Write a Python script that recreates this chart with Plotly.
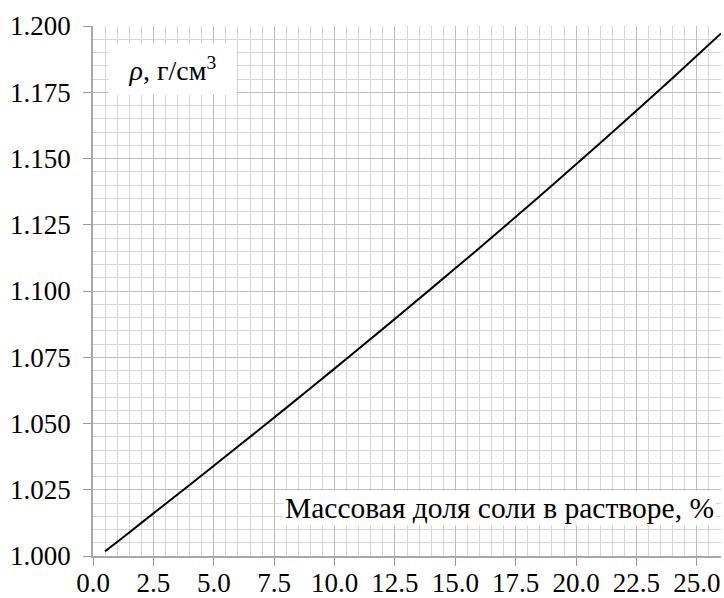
import plotly.graph_objects as go

# Data: mass fraction of salt (%) vs density (g/cm3)
mass_fraction = [0.5, 1, 2, 4, 6, 8, 10, 12, 14, 16, 18, 20, 22, 24, 26]
density = [1.0018, 1.0053, 1.0125, 1.0268, 1.0413, 1.0559, 1.0707, 1.0857,
           1.1009, 1.1162, 1.1319, 1.1478, 1.1640, 1.1804, 1.1972]

x_ticks = [0.0, 2.5, 5.0, 7.5, 10.0, 12.5, 15.0, 17.5, 20.0, 22.5, 25.0]
y_ticks = [1.000, 1.025, 1.050, 1.075, 1.100, 1.125, 1.150, 1.175, 1.200]

FONT = "'Liberation Serif', 'Times New Roman', serif"
FS = 27

fig = go.Figure()
fig.add_trace(go.Scatter(
    x=mass_fraction, y=density, mode="lines",
    line=dict(color="black", width=2, shape="spline", smoothing=0.6),
    hoverinfo="skip", showlegend=False,
))

fig.update_layout(
    width=724, height=598,
    margin=dict(l=93, r=3, t=26, b=42),
    paper_bgcolor="white", plot_bgcolor="white",
    font=dict(family=FONT, size=FS, color="black"),
    xaxis=dict(
        range=[0, 26], tickvals=x_ticks, ticktext=[f"{v:.1f}" for v in x_ticks],
        showgrid=True, gridcolor="#bdbdbd", gridwidth=1,
        minor=dict(dtick=0.5, tick0=0, showgrid=True, gridcolor="#d6d6d6", gridwidth=1),
        ticks="outside", ticklen=8, tickcolor="#999999", tickwidth=1,
        showline=True, linecolor="#a8a8a8", linewidth=1.5,
        zeroline=False, tickfont=dict(family=FONT, size=FS),
        ticklabelstandoff=-6, automargin=False,
    ),
    yaxis=dict(
        range=[1.0, 1.2], tickvals=y_ticks, ticktext=[f"{v:.3f}" for v in y_ticks],
        showgrid=True, gridcolor="#bdbdbd", gridwidth=1,
        minor=dict(dtick=0.005, tick0=1.0, showgrid=True, gridcolor="#d6d6d6", gridwidth=1),
        ticks="outside", ticklen=8, tickcolor="#999999", tickwidth=1,
        showline=True, linecolor="#a8a8a8", linewidth=1.5,
        zeroline=False, tickfont=dict(family=FONT, size=FS),
        ticklabelstandoff=7, automargin=False,
    ),
    annotations=[
        dict(
            text="<i>ρ</i>, г/см<sup>3</sup>", xref="paper", yref="paper",
            x=0.2293, y=0.968, xanchor="right", yanchor="top", showarrow=False,
            bgcolor="white", borderpad=0, width=127, height=50, align="center",
            font=dict(family=FONT, size=28, color="black"),
        ),
        dict(
            text="Массовая доля соли в растворе, %", xref="paper", yref="paper",
            x=0.992, y=0.0566, xanchor="right", yanchor="bottom", showarrow=False,
            bgcolor="white", borderpad=0, width=431, height=34, align="center",
            font=dict(family=FONT, size=29.5, color="black"),
        ),
    ],
)

fig.write_html(
    "out.html",
    config={"displayModeBar": False},
    post_script="document.body.style.margin='0';document.body.style.overflow='hidden';",
)
